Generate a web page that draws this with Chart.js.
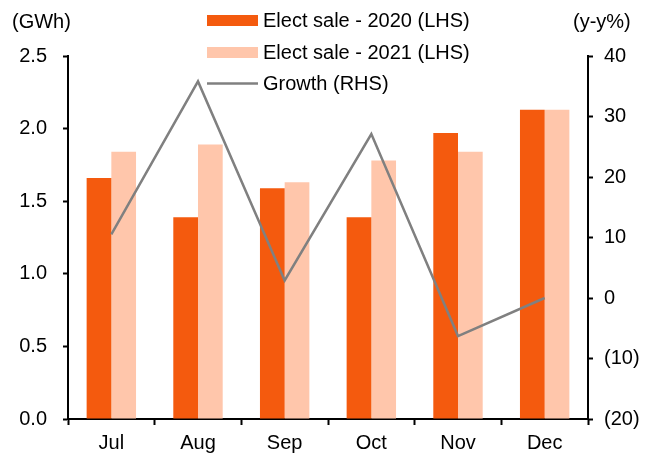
<!DOCTYPE html>
<html>
<head>
<meta charset="utf-8">
<script src="https://cdn.jsdelivr.net/npm/chart.js@4/dist/chart.umd.min.js"></script>
<style>
  html, body { margin: 0; padding: 0; background: #fff; }
  #wrap { position: relative; width: 652px; height: 455px; }
</style>
</head>
<body>
<div id="wrap"><canvas id="chart" width="652" height="455"></canvas></div>
<script>
// values
const months = ["Jul", "Aug", "Sep", "Oct", "Nov", "Dec"];
const sale2020 = [1.66, 1.39, 1.59, 1.39, 1.97, 2.13];
const sale2021 = [1.84, 1.89, 1.63, 1.78, 1.84, 2.13];
const growth = [10.5, 35.8, 2.9, 27.1, -6.3, 0.0];
const leftTicks = [0, 0.5, 1.0, 1.5, 2.0, 2.5];
const rightTicks = [-20, -10, 0, 10, 20, 30, 40];

const FONT = "'Liberation Sans', Arial, sans-serif";
const C2020 = "#F45A0E";
const C2021 = "#FFC6AB";
const CLINE = "#808080";

Chart.defaults.font.family = FONT;
Chart.defaults.font.size = 20;
Chart.defaults.color = "#000";

// legend + axis unit labels, drawn over the top of the chart
const extras = {
    id: "extras",
    afterDraw(chart) {
        const ctx = chart.ctx;
        ctx.save();
        ctx.font = "20px " + FONT;
        ctx.fillStyle = "#000";
        ctx.textBaseline = "middle";
        ctx.textAlign = "left";
        ctx.fillText("(GWh)", 12, 22);
        ctx.fillText("(y-y%)", 573, 22);

        const rows = [
            { ds: chart.data.datasets[0], y: 20.5 },
            { ds: chart.data.datasets[1], y: 52.5 },
            { ds: chart.data.datasets[2], y: 83.5 }
        ];
        rows.forEach(r => {
            if (r.ds.type === "line") {
                ctx.strokeStyle = r.ds.borderColor;
                ctx.lineWidth = 2.5;
                ctx.beginPath();
                ctx.moveTo(207, r.y);
                ctx.lineTo(258, r.y);
                ctx.stroke();
            } else {
                ctx.fillStyle = r.ds.backgroundColor;
                ctx.fillRect(207, r.y - 5.5, 51, 11);
            }
            ctx.fillStyle = "#000";
            ctx.fillText(r.ds.label, 263, r.y + 1);
        });
        ctx.restore();
    }
};

new Chart(document.getElementById("chart"), {
    type: "bar",
    data: {
        labels: months,
        datasets: [
            { label: "Elect sale - 2020 (LHS)", data: sale2020, backgroundColor: C2020, yAxisID: "y", order: 1,
              categoryPercentage: 0.57, barPercentage: 1.0 },
            { label: "Elect sale - 2021 (LHS)", data: sale2021, backgroundColor: C2021, yAxisID: "y", order: 1,
              categoryPercentage: 0.57, barPercentage: 1.0 },
            { type: "line", label: "Growth (RHS)", data: growth, borderColor: CLINE, backgroundColor: CLINE,
              borderWidth: 2.5, pointRadius: 0, tension: 0, yAxisID: "y1", order: 0 }
        ]
    },
    options: {
        responsive: false,
        animation: false,
        layout: { padding: { top: 56, left: 0, right: 0, bottom: 0 } },
        plugins: { legend: { display: false }, tooltip: { enabled: false } },
        scales: {
            x: {
                offset: true,
                grid: { offset: true, drawOnChartArea: false, drawTicks: true, tickLength: 6, tickWidth: 2, tickColor: "#000" },
                border: { color: "#000", width: 2 },
                ticks: { padding: 6, color: "#000" },
                afterFit(s) { s.height = 36; }
            },
            y: {
                position: "left",
                min: 0, max: 2.5,
                afterBuildTicks(s) { s.ticks = leftTicks.map(v => ({ value: v })); },
                ticks: { padding: 16, callback: v => v.toFixed(1) },
                grid: { drawOnChartArea: false, drawTicks: true, tickLength: 5, tickWidth: 2, tickColor: "#000" },
                border: { color: "#000", width: 2 },
                afterFit(s) { s.width = 68; }
            },
            y1: {
                position: "right",
                min: -20, max: 40,
                afterBuildTicks(s) { s.ticks = rightTicks.map(v => ({ value: v })); },
                ticks: { padding: 11, callback: v => v < 0 ? "(" + (-v) + ")" : String(v) },
                grid: { drawOnChartArea: false, drawTicks: true, tickLength: 5, tickWidth: 2, tickColor: "#000" },
                border: { color: "#000", width: 2 },
                afterFit(s) { s.width = 64; }
            }
        }
    },
    plugins: [extras]
});
</script>
</body>
</html>
